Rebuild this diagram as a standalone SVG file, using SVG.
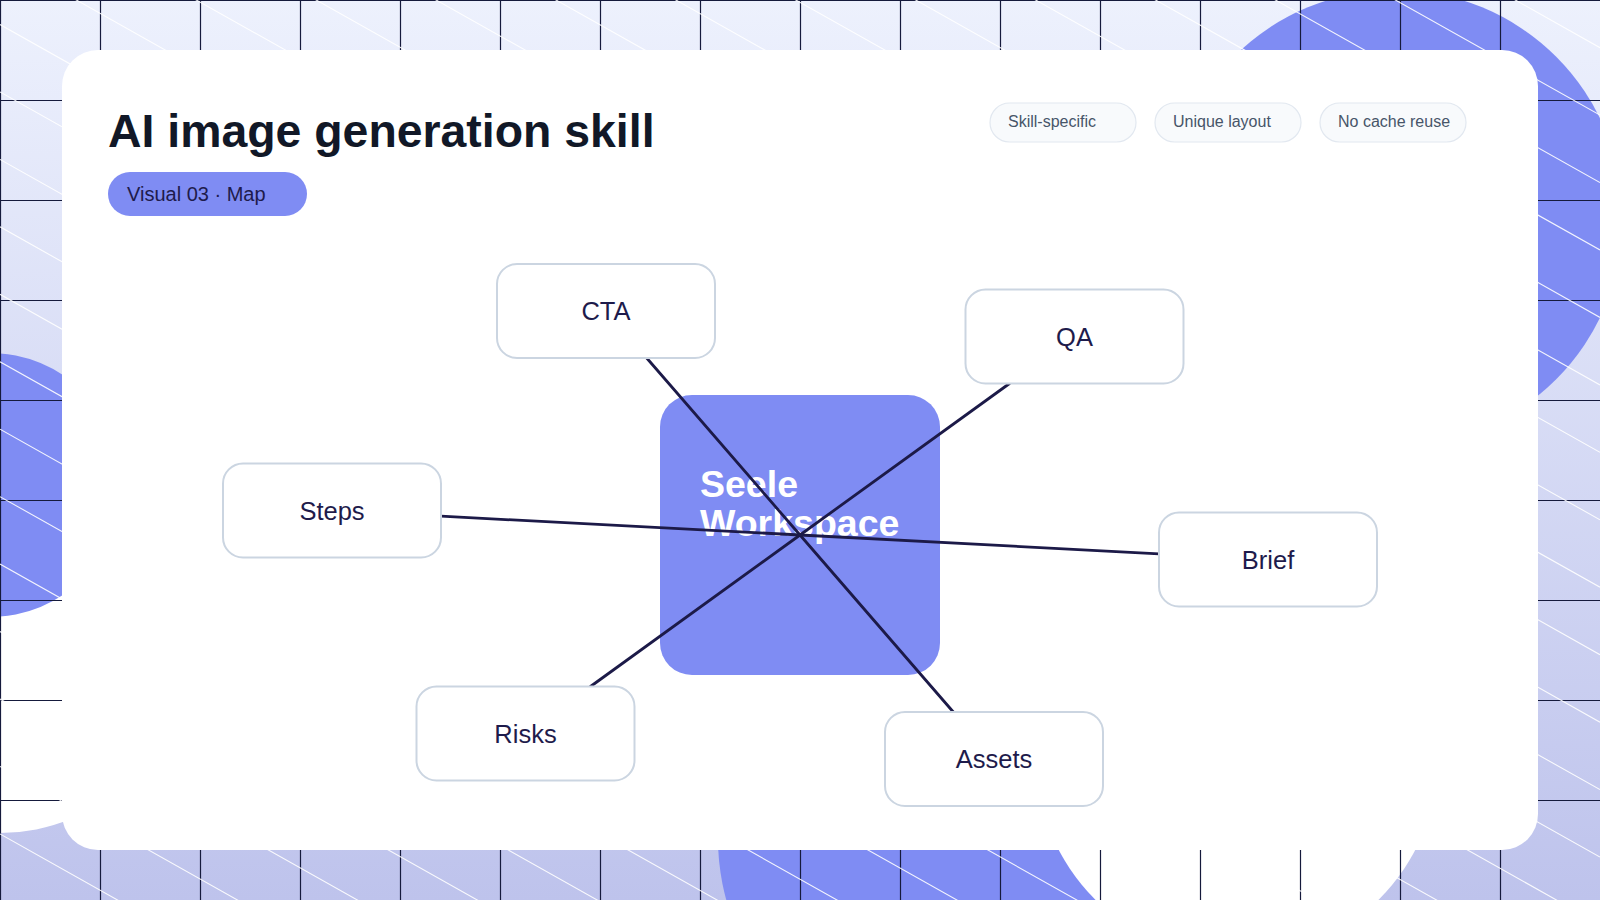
<svg xmlns="http://www.w3.org/2000/svg" width="1600" height="900" viewBox="0 0 1600 900">
  <defs>
    <linearGradient id="bg" x1="0" y1="0" x2="0" y2="1">
      <stop offset="0" stop-color="#edf1fd"/>
      <stop offset="1" stop-color="#bec3ec"/>
    </linearGradient>
    <style>
      .blob { fill: #7f8cf3; }
      .wblob { fill: #ffffff; }
      .grid { stroke: #151a3c; stroke-width: 1.2; fill: none; }
      .diag { stroke: #ffffff; stroke-width: 1.1; fill: none; opacity: 0.9; }
      .title { font-family: "Liberation Sans", Arial, sans-serif; font-weight: 700; font-size: 46.4px; fill: #111827; }
      .pilltext { font-family: "Liberation Sans", Arial, sans-serif; font-size: 20px; fill: #1e1b4b; }
      .tag rect { fill: #f8fafc; stroke: #e2e8f0; stroke-width: 1.2; }
      .tag text { font-family: "Liberation Sans", Arial, sans-serif; font-size: 16px; fill: #475569; }
      .node rect { fill: #ffffff; stroke: #cbd5e1; stroke-width: 2; }
      .node text { font-family: "Liberation Sans", Arial, sans-serif; font-size: 25.5px; fill: #1e1b4b; text-anchor: middle; }
      .hub rect { fill: #7f8cf3; }
      .hub text { font-family: "Liberation Sans", Arial, sans-serif; font-weight: 700; font-size: 37.5px; fill: #ffffff; }
      .edge { stroke: #1c1a48; stroke-width: 2.8; fill: none; stroke-linecap: round; }
    </style>
  </defs>

  <!-- background -->
  <rect x="0" y="0" width="1600" height="900" fill="url(#bg)"/>
  <circle class="wblob" cx="0" cy="647" r="186"/>
  <circle class="blob" cx="-10" cy="485" r="132"/>
  <circle class="blob" cx="1395" cy="218" r="228"/>
  <circle class="blob" cx="946" cy="839" r="228"/>
  <circle class="wblob" cx="1237" cy="757" r="201"/>

  <path class="grid" d="M0.5 0V900M100.5 0V900M200.5 0V900M300.5 0V900M400.5 0V900M500.5 0V900M600.5 0V900M700.5 0V900M800.5 0V900M900.5 0V900M1000.5 0V900M1100.5 0V900M1200.5 0V900M1300.5 0V900M1400.5 0V900M1500.5 0V900M0 0.5H1600M0 100.5H1600M0 200.5H1600M0 300.5H1600M0 400.5H1600M0 500.5H1600M0 600.5H1600M0 700.5H1600M0 800.5H1600"/>
  <path class="diag" d="M0 -852.35L1600 47.65M0 -784.9L1600 115.1M0 -717.45L1600 182.55M0 -650L1600 250M0 -582.55L1600 317.45M0 -515.1L1600 384.9M0 -447.65L1600 452.35M0 -380.2L1600 519.8M0 -312.75L1600 587.25M0 -245.3L1600 654.7M0 -177.85L1600 722.15M0 -110.4L1600 789.6M0 -42.95L1600 857.05M0 24.5L1600 924.5M0 91.95L1600 991.95M0 159.4L1600 1059.4M0 226.85L1600 1126.85M0 294.3L1600 1194.3M0 361.75L1600 1261.75M0 429.2L1600 1329.2M0 496.65L1600 1396.65M0 564.1L1600 1464.1M0 631.55L1600 1531.55M0 699L1600 1599M0 766.45L1600 1666.45M0 833.9L1600 1733.9"/>

  <!-- card -->
  <rect x="62" y="50" width="1476" height="800" rx="36" fill="#ffffff"/>

  <!-- header -->
  <text class="title" x="108" y="147">AI image generation skill</text>
  <g id="pill">
    <rect x="108" y="172" width="199" height="44" rx="22" fill="#7f8cf3"/>
    <text class="pilltext" x="127" y="201">Visual 03 · Map</text>
  </g>
  <g id="tag-skill" class="tag">
    <rect x="990" y="103" width="146" height="39" rx="19.5"/>
    <text x="1008" y="127">Skill-specific</text>
  </g>
  <g id="tag-layout" class="tag">
    <rect x="1155" y="103" width="146" height="39" rx="19.5"/>
    <text x="1173" y="127">Unique layout</text>
  </g>
  <g id="tag-cache" class="tag">
    <rect x="1320" y="103" width="146" height="39" rx="19.5"/>
    <text x="1338" y="127">No cache reuse</text>
  </g>

  <!-- hub -->
  <g id="node-hub" class="hub">
    <rect x="660" y="395" width="280" height="280" rx="32"/>
    <text x="700" y="497">Seele</text>
    <text x="700" y="536">Workspace</text>
  </g>

  <!-- connectors -->
  <g id="connectors">
    <line class="edge" x1="800" y1="535" x2="646.7" y2="358"/>
    <line class="edge" x1="800" y1="535" x2="953.3" y2="712"/>
    <line class="edge" x1="800" y1="535" x2="1009.5" y2="383.5"/>
    <line class="edge" x1="800" y1="535" x2="590.5" y2="686.5"/>
    <line class="edge" x1="800" y1="535" x2="441" y2="516.2"/>
    <line class="edge" x1="800" y1="535" x2="1159" y2="553.8"/>
  </g>

  <!-- nodes -->
  <g id="node-cta" class="node">
    <rect x="497" y="264" width="218" height="94" rx="20"/>
    <text x="606" y="320">CTA</text>
  </g>
  <g id="node-qa" class="node">
    <rect x="965.5" y="289.5" width="218" height="94" rx="20"/>
    <text x="1074.5" y="345.5">QA</text>
  </g>
  <g id="node-steps" class="node">
    <rect x="223" y="463.5" width="218" height="94" rx="20"/>
    <text x="332" y="519.5">Steps</text>
  </g>
  <g id="node-brief" class="node">
    <rect x="1159" y="512.5" width="218" height="94" rx="20"/>
    <text x="1268" y="568.5">Brief</text>
  </g>
  <g id="node-risks" class="node">
    <rect x="416.5" y="686.5" width="218" height="94" rx="20"/>
    <text x="525.5" y="742.5">Risks</text>
  </g>
  <g id="node-assets" class="node">
    <rect x="885" y="712" width="218" height="94" rx="20"/>
    <text x="994" y="768">Assets</text>
  </g>
</svg>
